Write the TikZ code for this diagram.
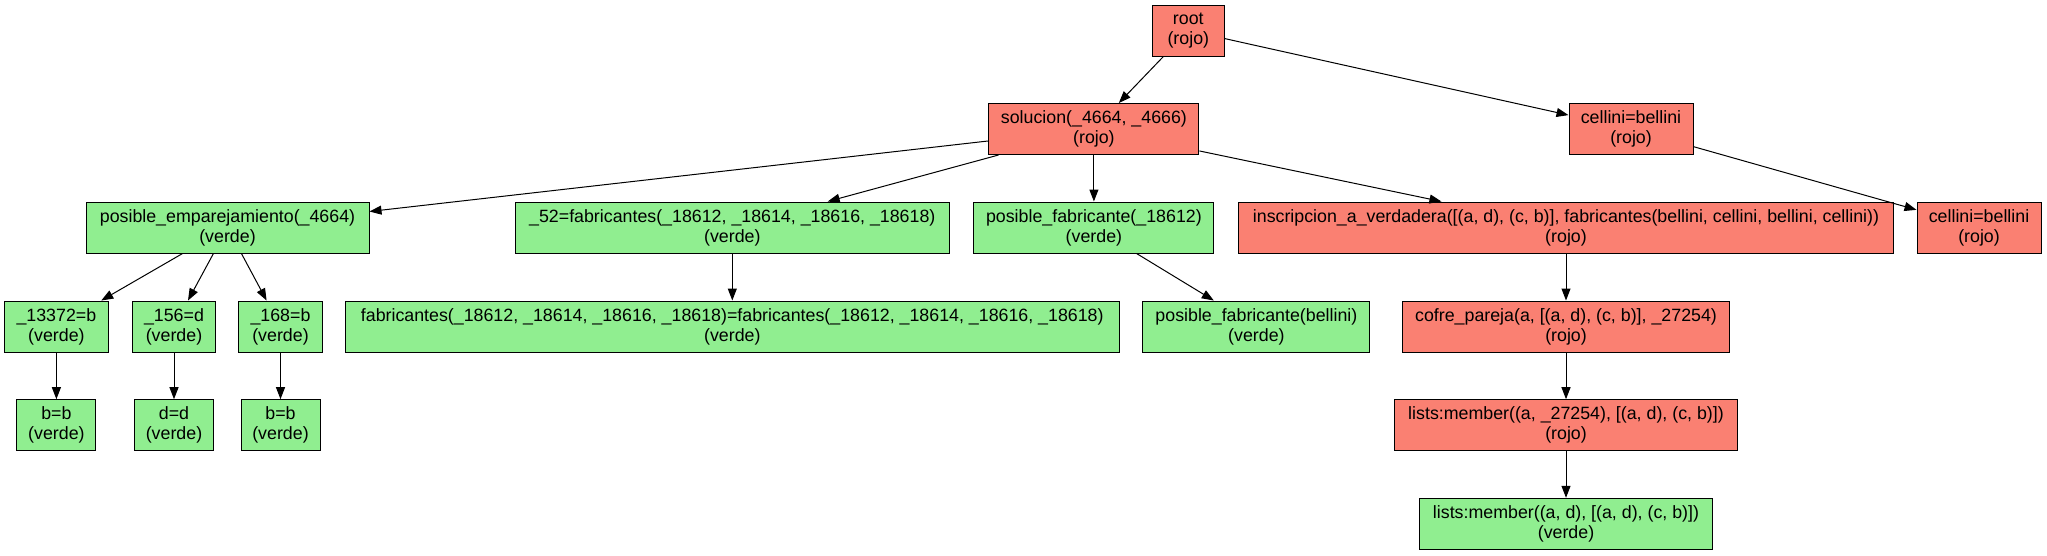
\documentclass[tikz,border=0pt]{standalone}
\usepackage{fontspec}
\setmainfont{Liberation Sans}
\usetikzlibrary{arrows.meta}
\definecolor{rojo}{HTML}{FA8072}
\definecolor{verde}{HTML}{90EE90}
\begin{document}
\begin{tikzpicture}[x=1pt,y=-1pt,
  box/.style={draw=black,line width=1pt,rectangle,inner sep=0pt,align=center,
    minimum height=51pt,font=\fontsize{17.8}{20}\selectfont},
  rbox/.style={box,fill=rojo},
  gbox/.style={box,fill=verde},
  edge/.style={-{Triangle[length=12pt,width=9pt]},line width=1pt}]
\useasboundingbox (0,0) rectangle (2047,555);
\node[rbox,minimum width=72.6pt] (root) at (1188.3,30.5) {root\\(rojo)};
\node[rbox,minimum width=210pt] (sol) at (1093.9,129) {solucion(\_4664, \_4666)\\(rojo)};
\node[rbox,minimum width=124pt] (cb1) at (1631,129) {cellini=bellini\\(rojo)};
\node[gbox,minimum width=283pt] (pe) at (227.5,227.5) {posible\_emparejamiento(\_4664)\\(verde)};
\node[gbox,minimum width=433.4pt] (f52) at (732.3,227.5) {\_52=fabricantes(\_18612, \_18614, \_18616, \_18618)\\(verde)};
\node[gbox,minimum width=240pt] (pf) at (1093.9,227.5) {posible\_fabricante(\_18612)\\(verde)};
\node[rbox,minimum width=654.6pt] (ins) at (1566,227.5) {inscripcion\_a\_verdadera([(a, d), (c, b)], fabricantes(bellini, cellini, bellini, cellini))\\(rojo)};
\node[rbox,minimum width=124pt] (cb2) at (1979,227.5) {cellini=bellini\\(rojo)};
\node[gbox,minimum width=103.5pt] (u1) at (56.4,326.5) {\_13372=b\\(verde)};
\node[gbox,minimum width=83pt] (u2) at (174,326.5) {\_156=d\\(verde)};
\node[gbox,minimum width=83.5pt] (u3) at (280.5,326.5) {\_168=b\\(verde)};
\node[gbox,minimum width=773.5pt] (fl) at (732.3,326.5) {fabricantes(\_18612, \_18614, \_18616, \_18618)=fabricantes(\_18612, \_18614, \_18616, \_18618)\\(verde)};
\node[gbox,minimum width=227pt] (pfb) at (1256.4,326.5) {posible\_fabricante(bellini)\\(verde)};
\node[rbox,minimum width=327pt] (cp) at (1566,326.5) {cofre\_pareja(a, [(a, d), (c, b)], \_27254)\\(rojo)};
\node[gbox,minimum width=79pt] (e1) at (56.4,425.2) {b=b\\(verde)};
\node[gbox,minimum width=79pt] (e2) at (174,425.2) {d=d\\(verde)};
\node[gbox,minimum width=79pt] (e3) at (280.5,425.2) {b=b\\(verde)};
\node[rbox,minimum width=342.8pt] (lm1) at (1566,425.2) {lists:member((a, \_27254), [(a, d), (c, b)])\\(rojo)};
\node[gbox,minimum width=293.3pt] (lm2) at (1566,523.8) {lists:member((a, d), [(a, d), (c, b)])\\(verde)};
\draw[edge] (root) -- (sol);
\draw[edge] (root) -- (cb1);
\draw[edge] (sol) -- (pe);
\draw[edge] (sol) -- (f52);
\draw[edge] (sol) -- (pf);
\draw[edge] (sol) -- (ins);
\draw[edge] (cb1) -- (cb2);
\draw[edge] (pe) -- (u1);
\draw[edge] (pe) -- (u2);
\draw[edge] (pe) -- (u3);
\draw[edge] (f52) -- (fl);
\draw[edge] (pf) -- (pfb);
\draw[edge] (ins) -- (cp);
\draw[edge] (u1) -- (e1);
\draw[edge] (u2) -- (e2);
\draw[edge] (u3) -- (e3);
\draw[edge] (cp) -- (lm1);
\draw[edge] (lm1) -- (lm2);
\end{tikzpicture}
\end{document}
